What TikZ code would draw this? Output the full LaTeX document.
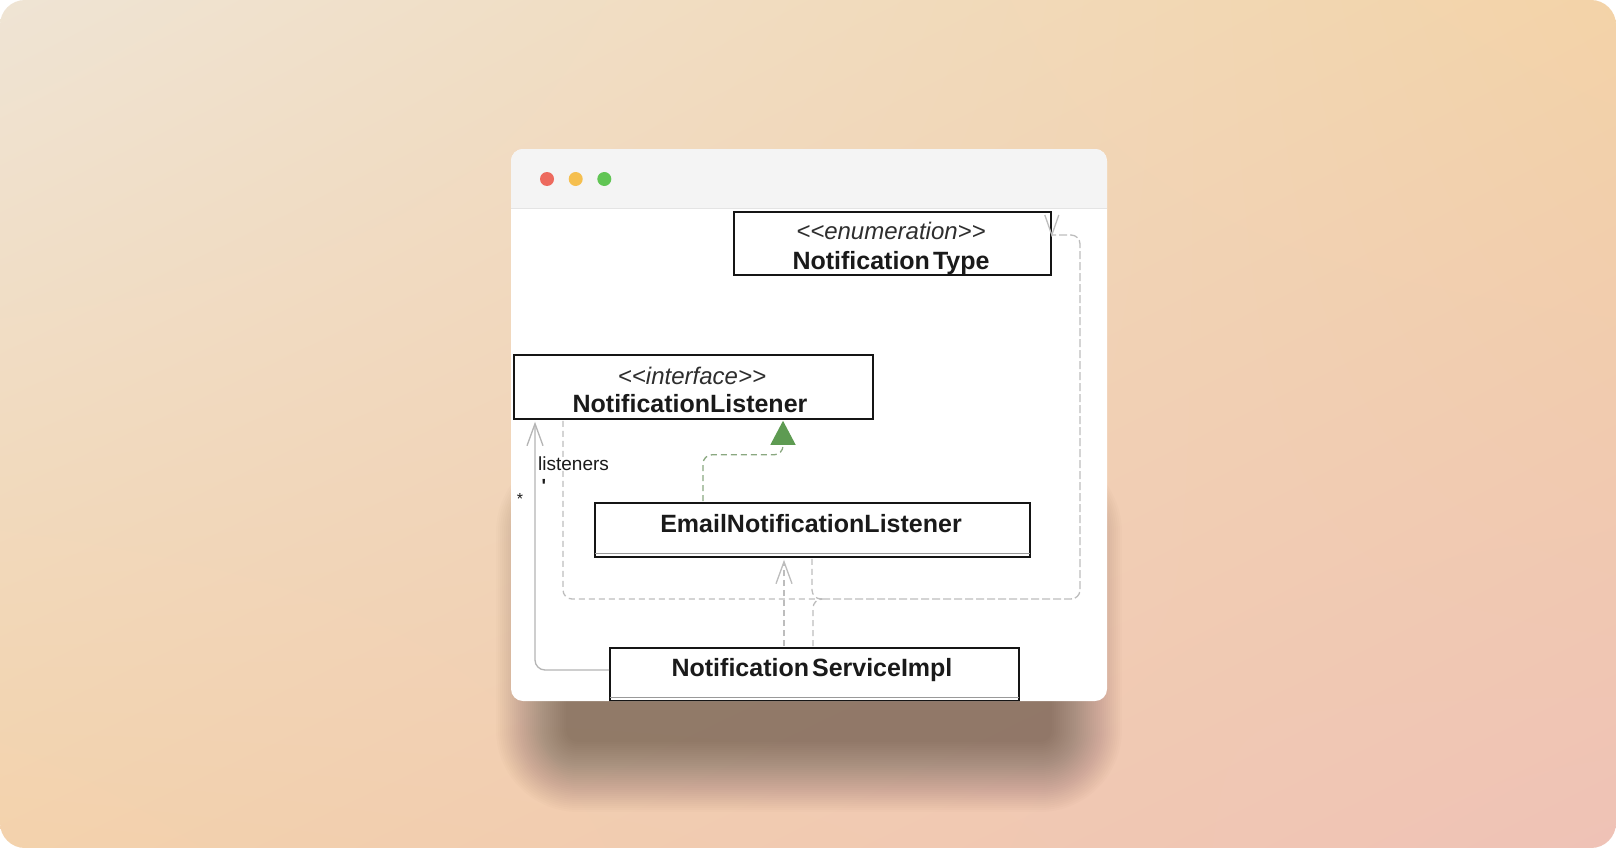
\documentclass[tikz,border=0pt]{standalone}
\usepackage{fontspec}
\setmainfont{Liberation Sans}
\usetikzlibrary{arrows.meta,calc,shadings}
\definecolor{bgTL}{HTML}{EFE4D4}
\definecolor{bgTR}{HTML}{F3D3A8}
\definecolor{bgBL}{HTML}{F3D2AC}
\definecolor{bgBR}{HTML}{EFC2B6}
\definecolor{titlebar}{HTML}{F4F4F4}
\definecolor{titleline}{HTML}{E4E4E4}
\definecolor{dotred}{HTML}{ED6A5E}
\definecolor{dotyellow}{HTML}{F5BF4F}
\definecolor{dotgreen}{HTML}{61C554}
\definecolor{depgrey}{HTML}{BDBDBD}
\definecolor{assocgrey}{HTML}{B5B5B5}
\definecolor{realgreen}{HTML}{8AA880}
\definecolor{trigreen}{HTML}{5E9B52}
\definecolor{boxline}{HTML}{151515}
\definecolor{txtdark}{HTML}{1A1A1A}
\definecolor{txtital}{HTML}{2E2E2E}
\tikzset{
  umlbox/.style={draw=boxline, line width=1.8pt, fill=white, inner sep=0pt},
  stereo/.style={anchor=base, inner sep=0pt, text=txtital, font=\fontsize{24}{28}\selectfont\itshape},
  cname/.style={anchor=base, inner sep=0pt, text=txtdark, font=\fontsize{25}{30}\selectfont\bfseries},
  smalltxt/.style={inner sep=0pt, text=txtdark},
  depline/.style={draw=depgrey, line width=1.3pt, dash pattern=on 6pt off 4pt, rounded corners=9pt},
  depcommon/.style={draw=depgrey, line width=1.3pt, dash pattern=on 8pt off 3pt, rounded corners=9pt},
  assocline/.style={draw=assocgrey, line width=1.3pt, rounded corners=10pt},
  realline/.style={draw=realgreen, line width=1.3pt, dash pattern=on 6pt off 4pt, rounded corners=9pt},
  openv/.style={-{Straight Barb[length=22pt,width=16pt,line width=1.3pt]}},
}
\begin{document}
\begin{tikzpicture}[x=1pt,y=-1pt]
\useasboundingbox (0,0) rectangle (1616,848);
\fill[white] (0,0) rectangle (1616,848);
\shade[rounded corners=25pt, upper left=bgTL, upper right=bgTR, lower left=bgBL, lower right=bgBR] (0,0) rectangle (1616,848);
% shadow
\foreach \e [evaluate=\e as \r using 12+\e] in {0,2,...,70}{
  \fill[black, opacity=0.012, rounded corners=\r pt] (566-\e,520-\e) rectangle (1052+\e,742+\e);
}
% window
\fill[white, rounded corners=12pt] (511,149) rectangle (1107,701);
\begin{scope}
\clip[rounded corners=12pt] (511,149) rectangle (1107,701);
\fill[titlebar] (511,149) rectangle (1107,208);
\draw[titleline, line width=1pt] (511,208) -- (1107,208);
\fill[dotred] (547,179) circle (7);
\fill[dotyellow] (575.7,179) circle (7);
\fill[dotgreen] (604.3,179) circle (7);

% boxes
\node[umlbox, minimum width=317pt, minimum height=63pt, anchor=north west] (nt) at (733,211) {};
\node[stereo] (ntst) at (891,239) {<\kern0pt<enumeration>\kern0pt>};
\node[cname] (ntname) at (891,269) {Notification\hspace{3pt}Type};

\node[umlbox, minimum width=359pt, minimum height=64pt, anchor=north west] (nl) at (513,354) {};
\node[stereo] (nlst) at (692,384) {<\kern0pt<interface>\kern0pt>};
\node[cname] (nlname) at (690,412) {NotificationListener};

\node[umlbox, minimum width=435pt, minimum height=54pt, anchor=north west] (enl) at (594,502) {};
\draw[gray!80, line width=1pt] ($(enl.south west)+(1,-4)$) -- ($(enl.south east)+(-1,-4)$);
\node[cname] (enlname) at (811,532) {EmailNotificationListener};

\node[umlbox, minimum width=409pt, minimum height=53pt, anchor=north west] (nsi) at (609,647) {};
\draw[gray!80, line width=1pt] ($(nsi.south west)+(1,-4)$) -- ($(nsi.south east)+(-1,-4)$);
\node[cname] (nsiname) at (812,676) {Notification\hspace{3pt}ServiceImpl};

% connectors
\coordinate (merge) at (822,599);
\coordinate (rb) at (1080,599);
\coordinate (nttip) at ($(nt.north east)+(0,24)$);
\draw[depline] ($(nl.south west)+(50,1)$) |- (merge);
\draw[depline] ($(enl.south west)+(218,1)$) |- (merge);
\draw[depline] ($(nsi.north west)+(204,-1)$) |- (merge);
\draw[depcommon] (merge) -- (rb) |- (nttip);
\draw[draw=depgrey, line width=1.3pt] ($(nttip)+(-7,-20)$) -- (nttip) -- ($(nttip)+(7,-20)$);

\draw[depline, openv] ($(nsi.north west)+(175,-1)$) -- ($(enl.south west)+(190,2)$);

\draw[assocline, openv] ($(nsi.north west)+(0,23)$) -| ($(nl.south west)+(22,2)$);
\node[smalltxt, anchor=base west, font=\fontsize{19}{22}\selectfont] (lbl) at (538,470) {listeners};
\node[smalltxt, anchor=base, font=\fontsize{19}{22}\selectfont\bfseries] (lbltick) at (544,492) {\textquotesingle};
\node[smalltxt, font=\fontsize{16}{18}\selectfont] (lblstar) at (520,499) {*};

\draw[realline, -{Triangle[length=24pt,width=25pt,color=trigreen]}] ($(enl.north west)+(109,-1)$) |- ($(nl.south west)+(270,35)$) -- ($(nl.south west)+(270,1)$);
\end{scope}
\end{tikzpicture}
\end{document}
